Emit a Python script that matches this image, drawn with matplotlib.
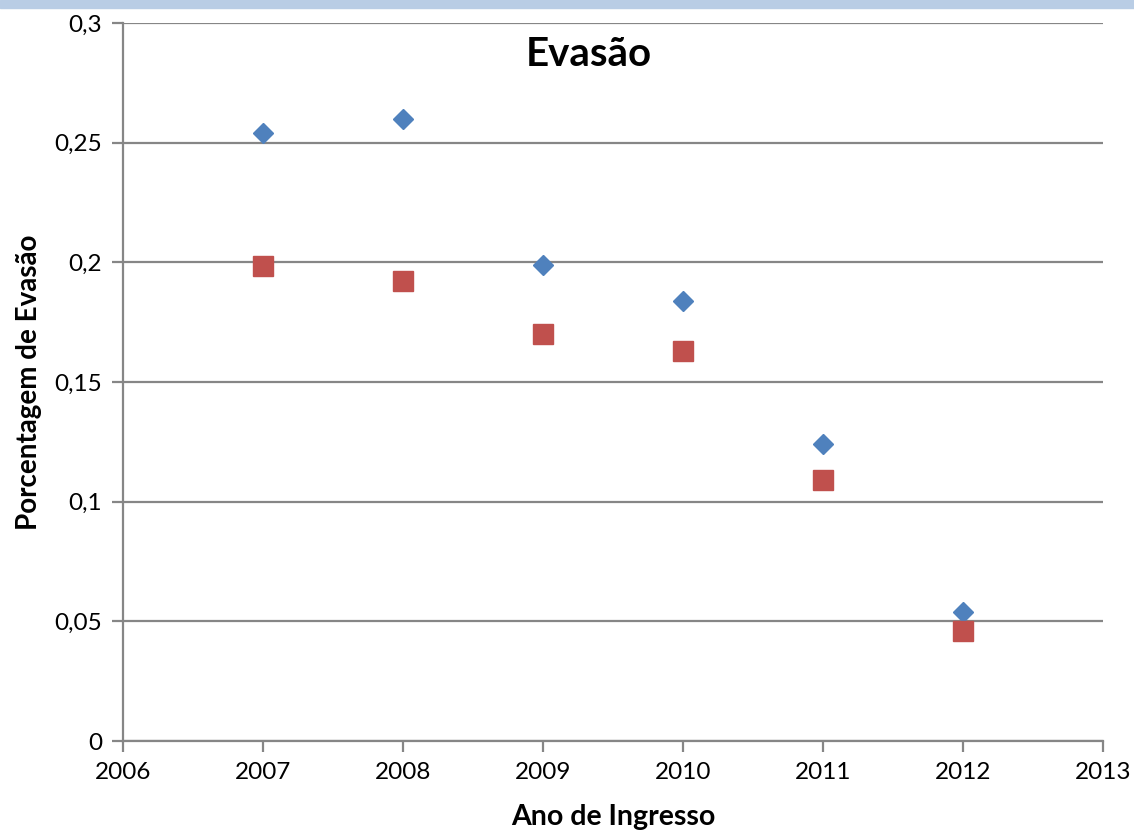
import numpy as np
import matplotlib.pyplot as plt
from matplotlib.patches import Rectangle

anos = [2007, 2008, 2009, 2010, 2011, 2012]
serie_azul = [0.254, 0.260, 0.199, 0.184, 0.124, 0.054]
serie_vermelha = [0.1985, 0.192, 0.170, 0.163, 0.109, 0.046]

yticks = [0, 0.05, 0.1, 0.15, 0.2, 0.25, 0.3]
ytick_labels = ['0', '0,05', '0,1', '0,15', '0,2', '0,25', '0,3']
xticks = [2006, 2007, 2008, 2009, 2010, 2011, 2012, 2013]

plt.rcParams['font.family'] = ['Lato', 'DejaVu Sans']
cinza = '#868686'

fig = plt.figure(figsize=(11.34, 8.35), dpi=100)
# faixa azul clara no topo
fig.patches.append(Rectangle((0, 1 - 8 / 835), 1, 8 / 835, transform=fig.transFigure,
                             color='#b9cde5', zorder=0))
ax = fig.add_axes([123 / 1134, 94 / 835, 980 / 1134, 718 / 835])

ax.set_xlim(2006, 2013)
ax.set_ylim(0, 0.3)
ax.set_yticks(yticks)
ax.set_yticklabels(ytick_labels)
ax.set_xticks(xticks)
ax.grid(axis='y', color=cinza, linewidth=1.6)
ax.set_axisbelow(True)

for s in ['top', 'right']:
    ax.spines[s].set_visible(False)
for s in ['left', 'bottom']:
    ax.spines[s].set_color(cinza)
    ax.spines[s].set_linewidth(1.6)
ax.tick_params(colors=cinza, width=1.6, length=8, labelsize=17.5, labelcolor='black', pad=7)

ax.plot(anos, serie_azul, linestyle='', marker='D', markersize=10.5, color='#4f81bd', clip_on=False)
ax.plot(anos, serie_vermelha, linestyle='', marker='s', markersize=14.5, color='#c0504d', clip_on=False)

ax.text(0.475, 0.982, 'Evasão', transform=ax.transAxes, ha='center', va='top',
        fontsize=29, fontweight='bold')
ax.set_xlabel('Ano de Ingresso', fontsize=20.5, fontweight='bold', labelpad=15)
ax.set_ylabel('Porcentagem de Evasão', fontsize=20, fontweight='bold', labelpad=9)

plt.savefig('out.png', dpi=100)
